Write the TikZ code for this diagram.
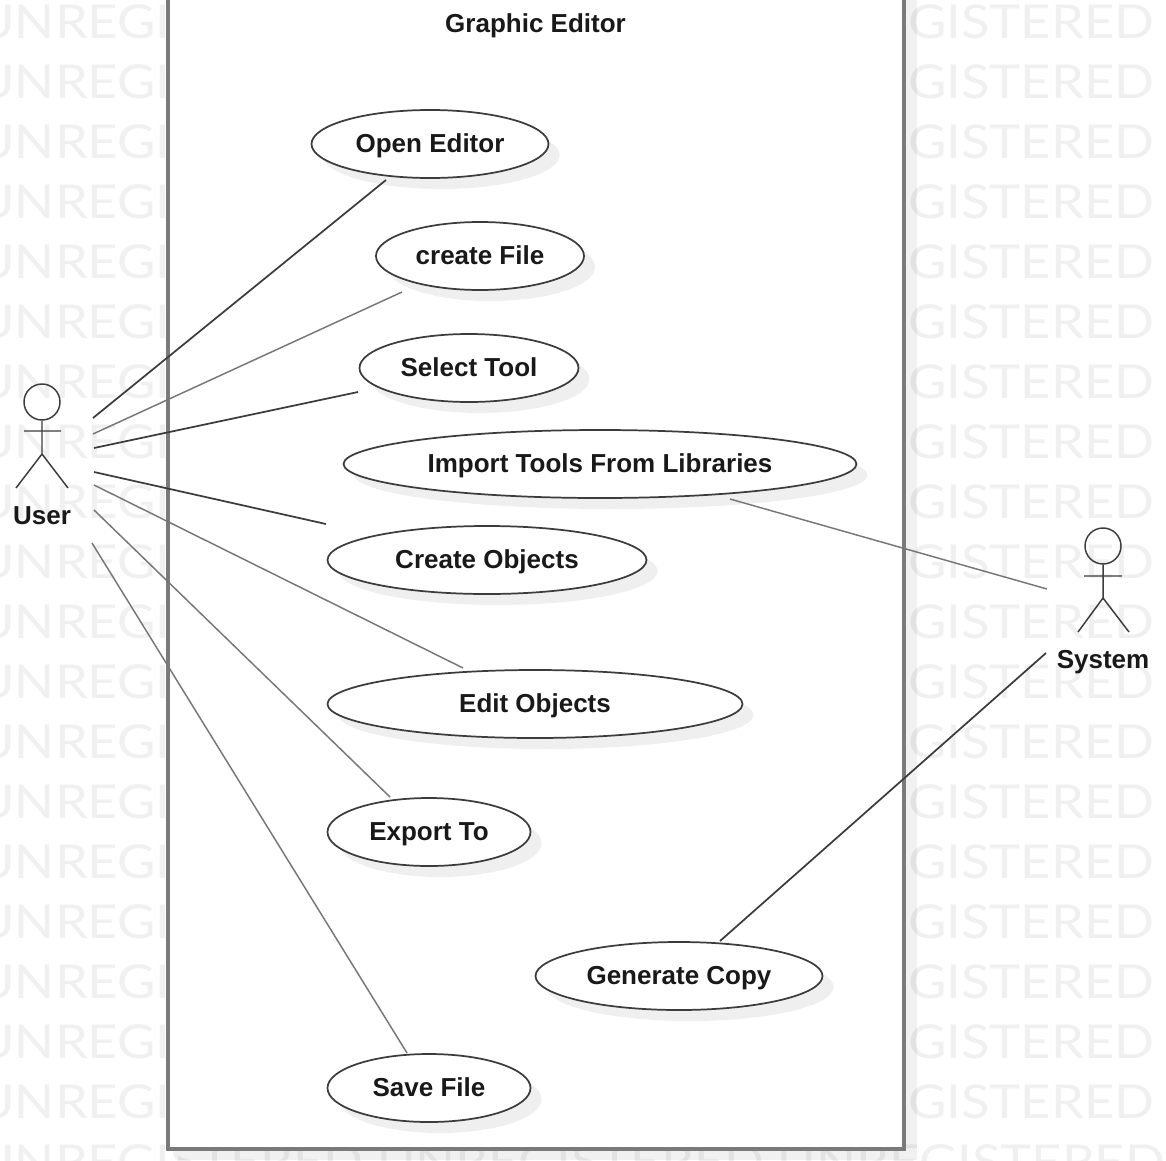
\documentclass[tikz,border=0pt]{standalone}
\usepackage{fontspec}
\setmainfont{Liberation Sans}
\newfontfamily\wmfont[FakeStretch=1.125]{Lato}
\usetikzlibrary{shapes.geometric}
\definecolor{wmgray}{HTML}{F0F0F0}
\definecolor{shadowgray}{HTML}{EFEFEF}
\definecolor{framegray}{HTML}{7A7A7A}
\definecolor{inkdark}{HTML}{3C3C3C}
\definecolor{inkmid}{HTML}{777777}
\tikzset{
  x=0.75pt,y=-0.75pt,
  labeltext/.style={font=\fontsize{19.5pt}{22pt}\selectfont\bfseries,text=black!90,text height=14pt,text depth=2pt,inner sep=0pt},
  usecase/.style={ellipse,draw=inkdark,fill=white,line width=1.3pt,minimum height=51pt,labeltext},
  shadowcase/.style={ellipse,fill=shadowgray,minimum height=51pt,inner sep=0pt},
  linkdark/.style={draw=inkdark,line width=1.3pt},
  linkmid/.style={draw=inkmid,line width=1.1pt},
  actorline/.style={draw=inkdark,line width=1.1pt},
  wmtext/.style={font=\wmfont\fontsize{35pt}{40pt}\selectfont,text=wmgray,inner sep=0pt,anchor=west},
  title/.style={labeltext},
}
\newcommand{\usecasenode}[5]{%
  \node[shadowcase,minimum width=#4*0.75pt] at (#2+11,#3+11) {};
  \node[usecase,minimum width=#4*0.75pt] (#1) at (#2,#3) {#5};
}
\begin{document}
\begin{tikzpicture}
\useasboundingbox (0,0) rectangle (1166,1160);
\fill[white] (0,0) rectangle (1166,1160);
% watermark
\begin{scope}
\clip (0,0) rectangle (1166,1160);
\foreach \r in {0,...,18}{
  \node[wmtext] (wl\r) at (-24,22+60*\r) {UNREGIS};
  \node[wmtext] (wr\r) at (908,22+60*\r) {GISTERED};
}
\node[wmtext] (wb) at (-24,1162) {UNREGISTERED UNREGISTERED UNREGISTERED UNREGISTERED};
\end{scope}
% system frame
\fill[black,fill opacity=0.055] (178,-10) rectangle (917,1160);
\fill[white] (168,-10) rectangle (904,1149);
\draw[framegray,line width=2.5pt] (168,-10) -- (168,1149) -- (904,1149) -- (904,-10);
\node[title] (sysname) at (535.5,24.5) {Graphic Editor};
% use cases
\usecasenode{open}{430}{144}{237}{Open Editor}
\usecasenode{create}{480}{256}{208}{create File}
\usecasenode{select}{469}{368}{219}{Select Tool}
\usecasenode{import}{600}{464}{513}{Import Tools From Libraries}
\usecasenode{objects}{487}{560}{319}{Create Objects}
\usecasenode{edit}{535}{704}{415}{Edit Objects}
\usecasenode{export}{429}{832}{203}{Export To}
\usecasenode{generate}{679}{976}{287}{Generate Copy}
\usecasenode{save}{429}{1088}{203}{Save File}
% actors
\node[circle,actorline,minimum size=27pt,inner sep=0pt] (userhead) at (42,402) {};
\coordinate (userhip) at (42,454);
\coordinate (userarml) at (24,431);
\coordinate (userarmr) at (61,431);
\coordinate (userlegl) at (16,488);
\coordinate (userlegr) at (68,488);
\draw[actorline] (userhead.south) -- (userhip) (userarml) -- (userarmr) (userlegl) -- (userhip) -- (userlegr);
\node[labeltext] (user) at (42,516) {User};
\node[circle,actorline,minimum size=27pt,inner sep=0pt] (syshead) at (1103,546) {};
\coordinate (syship) at (1103,598);
\coordinate (sysarml) at (1084,576);
\coordinate (sysarmr) at (1122,576);
\coordinate (syslegl) at (1078,632);
\coordinate (syslegr) at (1129,632);
\draw[actorline] (syshead.south) -- (syship) (sysarml) -- (sysarmr) (syslegl) -- (syship) -- (syslegr);
\node[labeltext] (system) at (1103,660) {System};
% connector ends
\coordinate (u1) at (93,418);  \coordinate (c1) at (386,180);
\coordinate (u2) at (93,434);  \coordinate (c2) at (402,292);
\coordinate (u3) at (94,448);  \coordinate (c3) at (358,392);
\coordinate (u4) at (94,472);  \coordinate (c4) at (326,524);
\coordinate (u5) at (94,485);  \coordinate (c5) at (463,668);
\coordinate (u6) at (94,510);  \coordinate (c6) at (390,797);
\coordinate (u7) at (92,543);  \coordinate (c7) at (407,1053);
\coordinate (s1) at (1047,589); \coordinate (c8) at (730,499);
\coordinate (s2) at (1046,653); \coordinate (c9) at (720,941);
\draw[linkdark] (u1) -- (c1);
\draw[linkmid]  (u2) -- (c2);
\draw[linkdark] (u3) -- (c3);
\draw[linkdark] (u4) -- (c4);
\draw[linkmid]  (u5) -- (c5);
\draw[linkmid]  (u6) -- (c6);
\draw[linkmid]  (u7) -- (c7);
\draw[linkmid]  (s1) -- (c8);
\draw[linkdark] (s2) -- (c9);
\end{tikzpicture}
\end{document}
